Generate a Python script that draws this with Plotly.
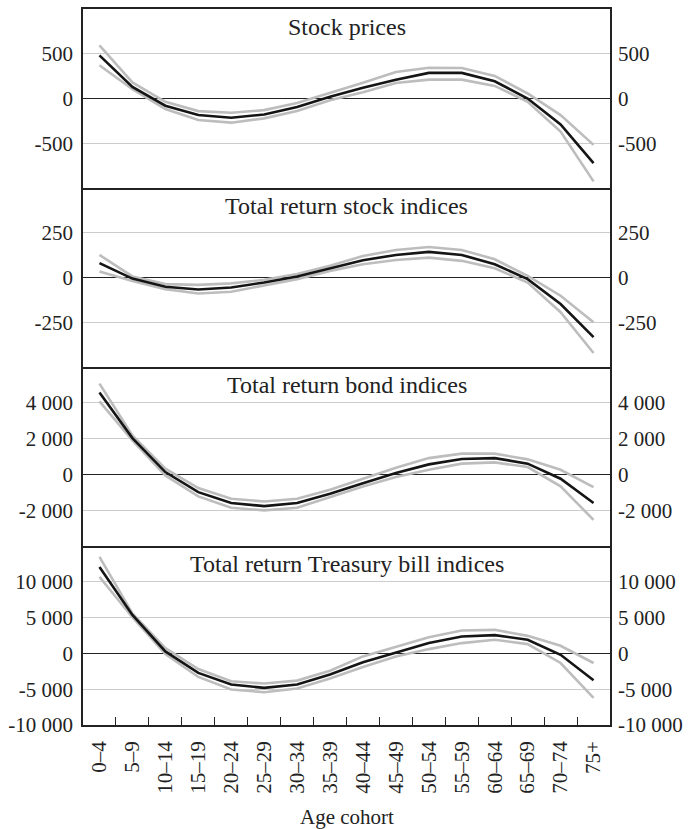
import plotly.graph_objects as go

cohorts = ["0–4", "5–9", "10–14", "15–19", "20–24", "25–29", "30–34", "35–39",
           "40–44", "45–49", "50–54", "55–59", "60–64", "65–69", "70–74", "75+"]

stock_mid = [482, 130, -81, -185, -215, -178, -96, 19, 120, 210, 286, 286, 193, 0, -289, -722]
stock_hi = [593, 180, -37, -141, -159, -130, -50, 60, 175, 296, 344, 341, 252, 56, -185, -518]
stock_lo = [371, 104, -118, -241, -270, -222, -140, -20, 70, 174, 211, 211, 141, -37, -370, -926]

trstock_mid = [80, -6, -52, -67, -56, -28, 6, 50, 96, 126, 143, 126, 74, -9, -148, -333]
trstock_hi = [126, 6, -37, -41, -33, -13, 19, 65, 120, 154, 170, 154, 102, 9, -102, -250]
trstock_lo = [33, -19, -65, -89, -80, -43, -9, 37, 74, 98, 111, 93, 52, -28, -194, -422]

bond_mid = [4570, 2030, 130, -990, -1600, -1770, -1600, -1080, -490, 80, 560, 860, 910, 600, -240, -1600]
bond_hi = [5070, 2180, 320, -760, -1360, -1510, -1360, -860, -240, 370, 910, 1160, 1160, 840, 260, -710]
bond_lo = [4080, 1900, -60, -1230, -1860, -2010, -1860, -1270, -670, -150, 260, 600, 670, 410, -670, -2540]

tbill_mid = [12080, 5370, 280, -2730, -4350, -4810, -4350, -2960, -1250, 140, 1440, 2360, 2550, 1900, -190, -3750]
tbill_hi = [13470, 5600, 740, -2180, -3890, -4210, -3800, -2410, -420, 970, 2270, 3190, 3290, 2450, 1070, -1340]
tbill_lo = [10690, 5050, -90, -3290, -5050, -5420, -4910, -3520, -1900, -420, 600, 1440, 1900, 1300, -1340, -6200]

panel_titles = ["Stock prices", "Total return stock indices",
                "Total return bond indices", "Total return Treasury bill indices"]
panel_series = [(stock_mid, stock_hi, stock_lo), (trstock_mid, trstock_hi, trstock_lo),
                (bond_mid, bond_hi, bond_lo), (tbill_mid, tbill_hi, tbill_lo)]
panel_ranges = [[-1000, 1000], [-500, 500], [-4000, 6000], [-10000, 15000]]
panel_ticks = [[-500, 0, 500], [-250, 0, 250], [-2000, 0, 2000, 4000],
               [-10000, -5000, 0, 5000, 10000]]
panel_ticktext = [["-500", "0", "500"], ["-250", "0", "250"],
                  ["-2 000", "0", "2 000", "4 000"],
                  ["-10 000", "-5 000", "0", "5 000", "10 000"]]
x_title = "Age cohort"

FONT = "Liberation Serif"
INK = "#222222"
BLACK = "#151515"
GREY = "#bdbdbd"
GRID = "#cccccc"
TICK_SIZE = 21

fig = go.Figure()
layout = dict(
    width=690, height=829,
    margin=dict(l=83, r=76, t=7, b=104),
    paper_bgcolor="white", plot_bgcolor="white",
    showlegend=False,
    font=dict(family=FONT, size=TICK_SIZE, color=INK),
    annotations=[],
)

n = 4
for k in range(n):
    xi = "" if k == 0 else str(k + 1)
    yl = str(k + 1) if k > 0 else ""
    yr = str(k + 1 + n)
    mid, hi, lo = panel_series[k]
    for vals, col in ((hi, GREY), (lo, GREY), (mid, BLACK)):
        fig.add_trace(go.Scatter(x=cohorts, y=vals, mode="lines",
                                 line=dict(color=col, width=2.6),
                                 xaxis="x" + xi, yaxis="y" + yl,
                                 hoverinfo="skip"))
    dom = [1 - (k + 1) / n, 1 - k / n]
    bottom = k == n - 1
    layout["xaxis" + xi] = dict(
        domain=[0, 1], anchor="y" + yl, type="category",
        categoryorder="array", categoryarray=cohorts,
        range=[-0.5, len(cohorts) - 0.5],
        showline=True, mirror=(k == 0), linecolor=INK, linewidth=1.5,
        showgrid=False, zeroline=False,
        tickson="boundaries",
        ticks="inside" if bottom else "", ticklen=8, tickcolor=INK, tickwidth=1.2,
        showticklabels=bottom, tickangle=-90,
        tickfont=dict(family=FONT, size=TICK_SIZE, color=INK),
        ticklabelstandoff=6,
    )
    if k > 0:
        layout["xaxis" + xi]["matches"] = "x"
    common = dict(
        range=panel_ranges[k], tickvals=panel_ticks[k], ticktext=panel_ticktext[k],
        tickfont=dict(family=FONT, size=TICK_SIZE, color=INK), ticks="",
    )
    layout["yaxis" + yl] = dict(
        domain=dom, anchor="x" + xi,
        showline=True, mirror=True, linecolor=INK, linewidth=1.5,
        showgrid=True, gridcolor=GRID, gridwidth=1.2,
        zeroline=True, zerolinecolor=INK, zerolinewidth=1.2,
        ticklabelstandoff=4,
        **common,
    )
    layout["yaxis" + yr] = dict(
        overlaying="y" + yl, side="right", anchor="x" + xi,
        showgrid=False, zeroline=False, showline=False,
        ticklabelstandoff=7,
        **common,
    )
    # an invisible copy keeps the right-hand axis drawn
    fig.add_trace(go.Scatter(x=cohorts, y=mid, mode="lines", line=dict(width=0),
                             opacity=0, xaxis="x" + xi, yaxis="y" + yr,
                             hoverinfo="skip"))
    layout["annotations"].append(dict(
        text=panel_titles[k], xref="x" + xi + " domain", yref="y" + yl + " domain",
        x=0.5, y=1, xanchor="center", yanchor="middle", yshift=-18,
        showarrow=False, font=dict(family=FONT, size=24, color=INK),
    ))

layout["annotations"].append(dict(
    text=x_title, xref="x4 domain", yref="y4 domain", x=0.5, y=0,
    xanchor="center", yanchor="middle", yshift=-92, showarrow=False,
    font=dict(family=FONT, size=TICK_SIZE, color=INK),
))

fig.update_layout(**layout)
fig.write_html("out.html")
